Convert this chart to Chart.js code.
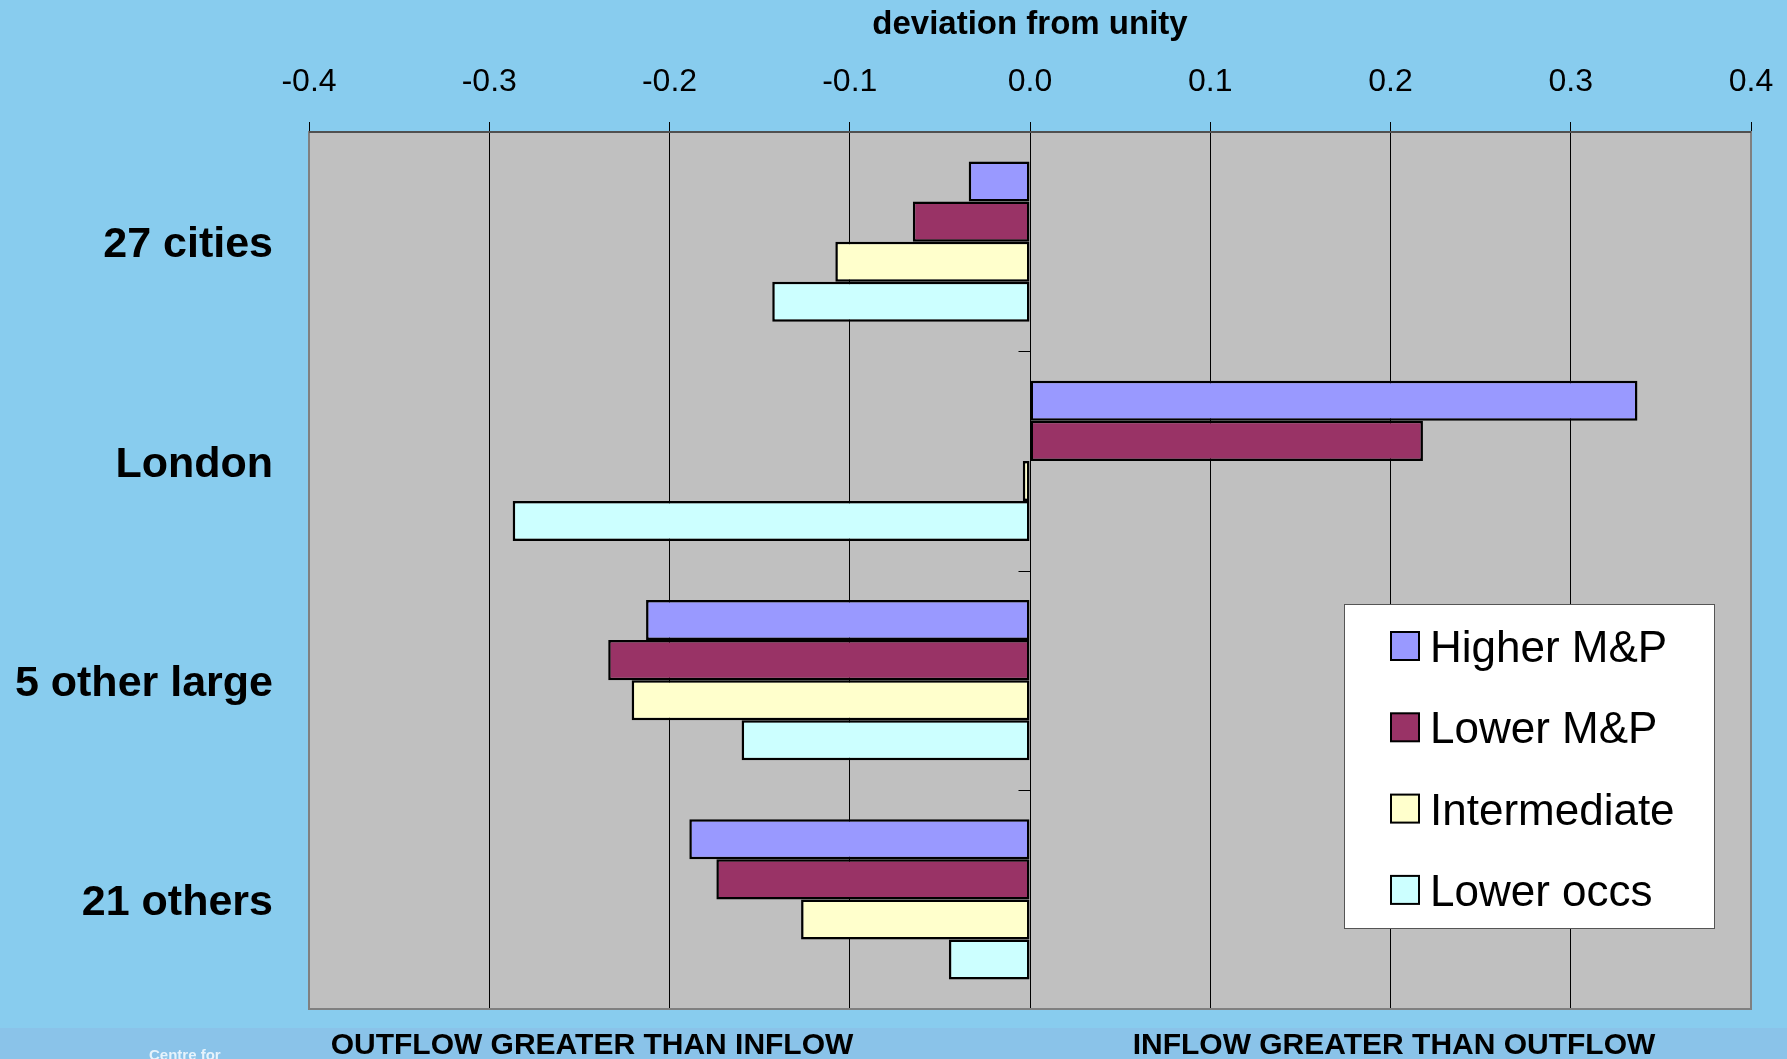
<!DOCTYPE html>
<html>
<head>
<meta charset="utf-8">
<title>Deviation from unity by occupation group</title>
<script src="https://cdn.jsdelivr.net/npm/chart.js@4.4.1/dist/chart.umd.min.js"></script>
<style>
  html, body { margin: 0; padding: 0; background: #88CCEE; }
  #wrap { width: 1787px; height: 1059px; }
</style>
</head>
<body>
<div id="wrap"><canvas id="chart" width="1787" height="1059"></canvas></div>
<script>
// Area groups and occupation series
const categories = ['27 cities', 'London', '5 other large', '21 others'];
const seriesNames = ['Higher M&P', 'Lower M&P', 'Intermediate', 'Lower occs'];
const higherMP     = [-0.034,  0.337, -0.213, -0.189];
const lowerMP      = [-0.065,  0.218, -0.234, -0.174];
const intermediate = [-0.108, -0.004, -0.221, -0.127];
const lowerOccs    = [-0.143, -0.287, -0.160, -0.045];
const xTicks = [-0.4, -0.3, -0.2, -0.1, 0.0, 0.1, 0.2, 0.3, 0.4];
const footLeft = 'OUTFLOW GREATER THAN INFLOW';
const footRight = 'INFLOW GREATER THAN OUTFLOW';

const seriesColors = ['#9999FF', '#993366', '#FFFFCC', '#CCFFFF'];
const seriesValues = [higherMP, lowerMP, intermediate, lowerOccs];

const FONT = "'Liberation Sans', Arial, Helvetica, sans-serif";

// Plot panel edges on the canvas
const PLOT = { left: 309, right: 1751, top: 132, bottom: 1009 };

// Grey plot panel behind the bars, frame and zero axis ticks
const plotPanel = {
  id: 'plotPanel',
  beforeDraw(chart) {
    const { ctx, chartArea: a } = chart;
    ctx.save();
    ctx.fillStyle = '#C0C0C0';
    ctx.fillRect(a.left, a.top, a.right - a.left, a.bottom - a.top);
    ctx.restore();
  },
  beforeDatasetsDraw(chart) {
    const { ctx, chartArea: a, scales } = chart;
    const x0 = Math.round(scales.x.getPixelForValue(0)) + 0.5;
    ctx.save();
    ctx.strokeStyle = '#000';
    ctx.lineWidth = 1;
    ctx.beginPath();
    ctx.moveTo(x0, a.top);
    ctx.lineTo(x0, a.bottom);
    for (let i = 0; i <= categories.length; i++) {
      const y = Math.round(scales.y.getPixelForValue(i - 0.5)) + 0.5;
      ctx.moveTo(x0 - 12, y);
      ctx.lineTo(x0, y);
    }
    ctx.stroke();
    ctx.restore();
  },
  afterDraw(chart) {
    const { ctx, chartArea: a, width, height } = chart;
    ctx.save();
    // frame
    ctx.strokeStyle = '#808080';
    ctx.lineWidth = 2;
    ctx.strokeRect(a.left, a.top, a.right - a.left, a.bottom - a.top);
    ctx.strokeStyle = '#505050';
    ctx.beginPath();
    ctx.moveTo(a.left, a.top);
    ctx.lineTo(a.right, a.top);
    ctx.stroke();

    // footer band
    const bandTop = 1028;
    ctx.fillStyle = '#8AC3E9';
    ctx.fillRect(0, bandTop, width, height - bandTop);
    ctx.fillStyle = '#000';
    ctx.font = 'bold 30px ' + FONT;
    ctx.textAlign = 'center';
    ctx.textBaseline = 'alphabetic';
    ctx.fillText(footLeft, 592, 1054);
    ctx.fillText(footRight, 1394, 1054);

    // logo text cut off at the lower edge
    ctx.filter = 'blur(0.6px)';
    ctx.fillStyle = '#E6F3FC';
    ctx.font = 'bold 15px ' + FONT;
    ctx.textAlign = 'left';
    ctx.fillText('Centre for', 149, 1060);
    ctx.filter = 'none';

    // legend box
    const lx = 1344, ly = 604, lw = 370, lh = 324;
    ctx.fillStyle = '#FFFFFF';
    ctx.fillRect(lx, ly, lw, lh);
    ctx.strokeStyle = '#555';
    ctx.lineWidth = 1;
    ctx.strokeRect(lx + 0.5, ly + 0.5, lw, lh);
    ctx.font = '44px ' + FONT;
    ctx.textAlign = 'left';
    ctx.textBaseline = 'alphabetic';
    chart.data.datasets.forEach((ds, i) => {
      const sy = 632 + i * 81.3;
      ctx.fillStyle = ds.backgroundColor;
      ctx.fillRect(1391, sy, 28, 28);
      ctx.strokeStyle = '#000';
      ctx.lineWidth = 2;
      ctx.strokeRect(1391, sy, 28, 28);
      ctx.fillStyle = '#000';
      ctx.fillText(ds.label, 1430, 662 + i * 81.3);
    });
    ctx.restore();
  }
};

new Chart(document.getElementById('chart'), {
  type: 'bar',
  data: {
    labels: categories,
    datasets: seriesNames.map((name, i) => ({
      label: name,
      data: seriesValues[i],
      backgroundColor: seriesColors[i],
      borderColor: '#000',
      borderWidth: 2.5,
      borderSkipped: false,
      categoryPercentage: 0.73,
      barPercentage: 1.0
    }))
  },
  options: {
    indexAxis: 'y',
    responsive: false,
    animation: false,
    devicePixelRatio: 1,
    layout: { padding: { left: 0, right: 1787 - PLOT.right, top: 0, bottom: 1059 - PLOT.bottom } },
    plugins: {
      legend: { display: false },
      tooltip: { enabled: false }
    },
    scales: {
      x: {
        position: 'top',
        min: -0.4,
        max: 0.4,
        afterBuildTicks(scale) {
          scale.ticks = xTicks.map(v => ({ value: v }));
        },
        afterFit(scale) {
          scale.height = PLOT.top;
          scale.paddingLeft = 0;
          scale.paddingRight = 0;
        },
        grid: {
          color: '#000',
          lineWidth: 1,
          drawTicks: true,
          tickLength: 10,
          tickColor: '#000'
        },
        border: { display: true, color: '#505050', width: 2 },
        ticks: {
          padding: 21,
          color: '#000',
          font: { family: FONT, size: 32 },
          maxRotation: 0,
          callback(v) { return Math.abs(v) < 1e-9 ? '0.0' : Number(v).toFixed(1); }
        },
        title: {
          display: true,
          text: 'deviation from unity',
          color: '#000',
          font: { family: FONT, size: 33, weight: 'bold' },
          padding: { top: 5, bottom: 0 }
        }
      },
      y: {
        afterFit(scale) {
          scale.width = PLOT.left;
          scale.paddingTop = 0;
          scale.paddingBottom = 0;
        },
        grid: { display: false, drawTicks: false },
        border: { display: false },
        ticks: {
          padding: 36,
          labelOffset: 4,
          color: '#000',
          font: { family: FONT, size: 43, weight: 'bold' }
        }
      }
    }
  },
  plugins: [plotPanel]
});
</script>
</body>
</html>
